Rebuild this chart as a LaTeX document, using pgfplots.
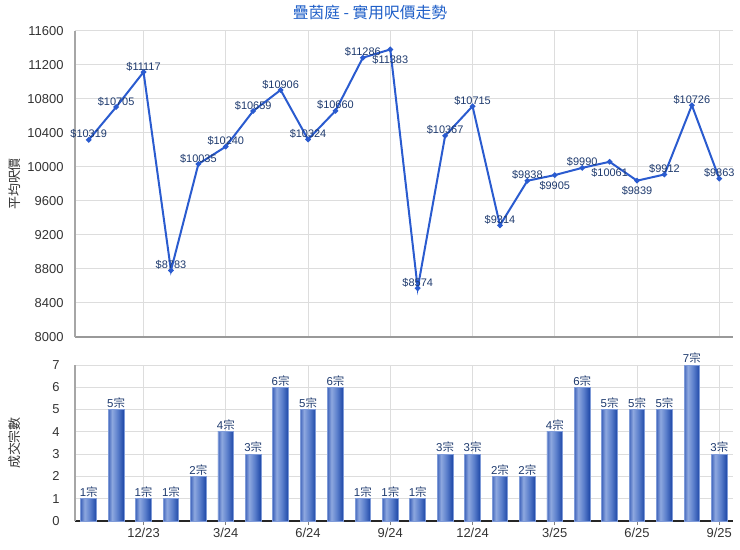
\documentclass[border=0pt]{standalone}
\usepackage{pgfplots}
\pgfplotsset{compat=1.18}
\usepackage{fontspec}
\setmainfont{Liberation Sans}
\newfontfamily\cjk{Noto Sans CJK TC}
\definecolor{linec}{HTML}{2A5BCF}
\definecolor{titlec}{HTML}{1F5FC8}
\definecolor{labelc}{HTML}{1E3A6E}
\definecolor{gridc}{HTML}{DDDDDD}
\definecolor{tickc}{HTML}{333333}
\definecolor{bA}{HTML}{4468BD}
\definecolor{bB}{HTML}{8EA8DF}
\definecolor{bC}{HTML}{5A7ECB}
\definecolor{bD}{HTML}{1C46A6}
\definecolor{barborder}{HTML}{7F9BD8}
\pgfdeclarehorizontalshading{barshade}{100bp}{color(0bp)=(bA); color(25bp)=(bA); color(37bp)=(bB); color(55bp)=(bC); color(75bp)=(bD); color(100bp)=(bD)}
\pgfplotsset{barsty/.style={ybar, bar width=0.57, bar shift=0pt, draw=barborder, line width=0.8bp, shade, shading=barshade,
  nodes near coords={\pgfmathprintnumber{\pgfplotspointmeta}{\cjk 宗}},
  every node near coord/.append style={anchor=south, inner sep=1bp, font=\fontsize{11.5}{13}\selectfont, text=labelc}}}
\newcommand\onebar[2]{\addplot[barsty] coordinates {(#1,#2)};}
\begin{document}
\begin{tikzpicture}[x=1bp,y=1bp]
\useasboundingbox (-75bp,-213bp) rectangle (665bp,337bp);
\node[font=\cjk\fontsize{15.8}{18}\selectfont, text=titlec] at (295bp,325bp) {疊茵庭 - 實用呎價走勢};
\begin{axis}[
  at={(0bp,0bp)}, anchor=south west, scale only axis,
  width=658bp, height=306bp,
  xmin=-0.5, xmax=23.5, ymin=8000, ymax=11600,
  ytick={8000,8400,...,11600},
  scaled y ticks=false,
  xtick={2,5,...,23}, xticklabels={},
  grid=major, grid style={color=gridc, line width=1bp},
  axis lines*=left,
  x axis line style={draw=gray!80, line width=2bp},
  y axis line style={draw=gray!70, line width=1.5bp},
  major tick length=0pt,
  tick label style={font=\fontsize{13}{15}\selectfont, text=tickc},
  yticklabel style={xshift=-8bp},
  /pgf/number format/assume math mode=true,
  /pgf/number format/1000 sep={},
  ylabel={\cjk 平均呎價},
  ylabel style={at={(axis description cs:-0.0912,0.5)}, anchor=center, font=\cjk\fontsize{13}{15}\selectfont, text=tickc},
  clip=false,
]
\addplot[color=linec, line width=2bp, mark=*, mark size=1.6bp, mark options={fill=linec, draw=linec}] coordinates {
(0,10319) (1,10705) (2,11117) (3,8783) (4,10035) (5,10240) (6,10659) (7,10906) (8,10324) (9,10660) (10,11286) (11,11383) (12,8574) (13,10367) (14,10715) (15,9314) (16,9838) (17,9905) (18,9990) (19,10061) (20,9839) (21,9912) (22,10726) (23,9863)};
\addplot[draw=none, mark=none, nodes near coords={\$\pgfmathprintnumber[1000 sep={}]{\pgfplotspointmeta}},
  every node near coord/.append style={anchor=south, inner sep=1bp, font=\fontsize{11}{12}\selectfont, text=labelc}] coordinates {
(0,10319) (1,10705) (2,11117) (3,8783) (4,10035) (5,10240) (6,10659) (7,10906) (8,10324) (9,10660) (10,11286) (12,8574) (13,10367) (14,10715) (15,9314) (16,9838) (18,9990) (21,9912) (22,10726) (23,9863)};
\addplot[draw=none, mark=none, nodes near coords={\$\pgfmathprintnumber[1000 sep={}]{\pgfplotspointmeta}},
  every node near coord/.append style={anchor=north, inner sep=1bp, yshift=-5bp, font=\fontsize{11}{12}\selectfont, text=labelc}] coordinates {
(11,11383) (17,9905) (19,10061) (20,9839)};
\end{axis}
\begin{axis}[
  at={(0bp,-184bp)}, anchor=south west, scale only axis,
  width=658bp, height=156bp,
  xmin=-0.5, xmax=23.5, ymin=0, ymax=7,
  ytick={0,1,...,7},
  xtick={2,5,...,23},
  xticklabels={12/23,3/24,6/24,9/24,12/24,3/25,6/25,9/25},
  grid=major, grid style={color=gridc, line width=1bp},
  axis lines*=left,
  x axis line style={draw=gray!30!black, line width=1.5bp},
  y axis line style={draw=gray!70, line width=1.5bp},
  tick align=outside,
  xtick style={draw=gray, line width=0.8bp},
  ytick style={draw=none},
  major tick length=4bp,
  tick label style={font=\fontsize{13}{15}\selectfont, text=tickc},
  yticklabel style={xshift=-8bp},
  xticklabel style={yshift=0bp},
  /pgf/number format/assume math mode=true,
  ylabel={\cjk 成交宗數},
  ylabel style={at={(axis description cs:-0.0912,0.5)}, anchor=center, font=\cjk\fontsize{13}{15}\selectfont, text=tickc},
  clip=false,
]
\onebar{0}{1}
\onebar{1}{5}
\onebar{2}{1}
\onebar{3}{1}
\onebar{4}{2}
\onebar{5}{4}
\onebar{6}{3}
\onebar{7}{6}
\onebar{8}{5}
\onebar{9}{6}
\onebar{10}{1}
\onebar{11}{1}
\onebar{12}{1}
\onebar{13}{3}
\onebar{14}{3}
\onebar{15}{2}
\onebar{16}{2}
\onebar{17}{4}
\onebar{18}{6}
\onebar{19}{5}
\onebar{20}{5}
\onebar{21}{5}
\onebar{22}{7}
\onebar{23}{3}
\end{axis}
\end{tikzpicture}
\end{document}
